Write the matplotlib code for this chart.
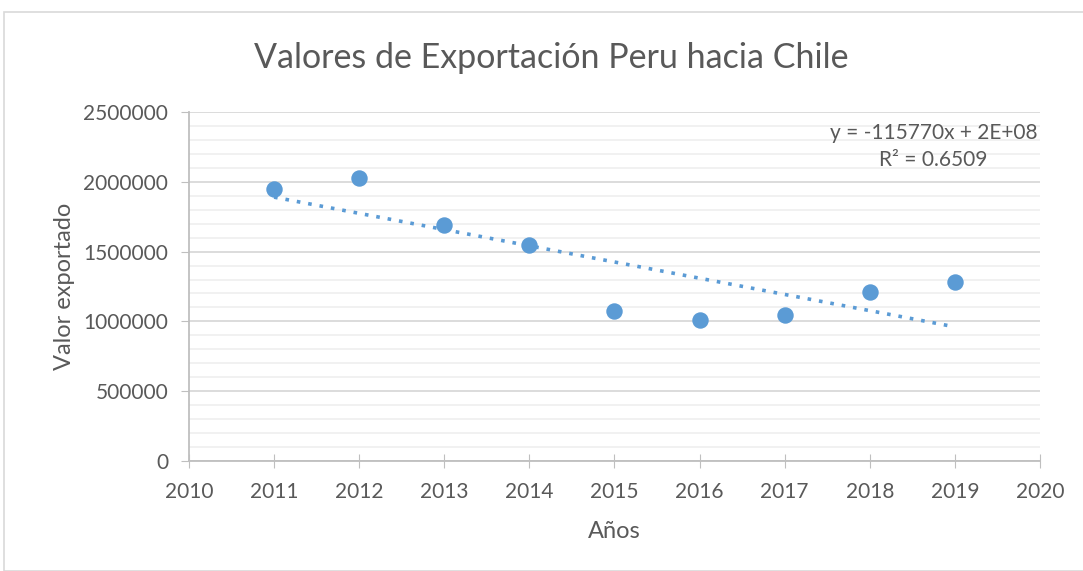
import matplotlib.pyplot as plt
import numpy as np
from matplotlib.patches import Rectangle
from matplotlib.ticker import MultipleLocator

# Data
years = [2011, 2012, 2013, 2014, 2015, 2016, 2017, 2018, 2019]
valores = [1950000, 2030000, 1690000, 1545000, 1072000, 1008000, 1044000, 1210000, 1280000]

blue = "#5B9BD5"
gray_txt = "#595959"

plt.rcParams["font.family"] = ["Lato", "DejaVu Sans"]

fig = plt.figure(figsize=(10.83, 5.71), dpi=100)
ax = fig.add_axes([0.1745, 0.1926, 0.9603 - 0.1745, 0.8039 - 0.1926])

# outer chart border
fig.patches.append(Rectangle((4 / 1083, 0), 1.2, 1 - 12 / 571, transform=fig.transFigure,
                             fill=False, edgecolor="#d9d9d9", linewidth=1.2))

ax.scatter(years, valores, s=140, color=blue, zorder=3, linewidths=0)

# linear trend line
coef = np.polyfit(years, valores, 1)
xs = np.array([years[0], years[-1]])
ax.plot(xs, np.polyval(coef, xs), linestyle=(0, (1, 2.2)), color=blue, linewidth=2.6, zorder=2)

ax.set_xlim(2010, 2020)
ax.set_ylim(0, 2500000)
ax.xaxis.set_major_locator(MultipleLocator(1))
ax.yaxis.set_major_locator(MultipleLocator(500000))
ax.yaxis.set_minor_locator(MultipleLocator(100000))
ax.yaxis.set_major_formatter(lambda v, p: f"{int(round(v))}")
ax.grid(which="major", axis="y", color="#d9d9d9", linewidth=1.3)
ax.grid(which="minor", axis="y", color="#f0f0f0", linewidth=1.3)
ax.set_axisbelow(True)

for s in ["top", "right"]:
    ax.spines[s].set_visible(False)
for s in ["left", "bottom"]:
    ax.spines[s].set_color("#bfbfbf")
    ax.spines[s].set_linewidth(1.3)

ax.tick_params(axis="x", which="major", direction="inout", length=10, color="#bfbfbf",
               labelsize=15, labelcolor=gray_txt, pad=10)
ax.tick_params(axis="y", which="major", direction="out", length=6, color="#bfbfbf",
               labelsize=15, labelcolor=gray_txt, pad=9)
ax.tick_params(axis="y", which="minor", length=0)

ax.set_xlabel("Años", fontsize=17, color=gray_txt, labelpad=14)
ax.set_ylabel("Valor exportado", fontsize=17, color=gray_txt, labelpad=6)

fig.text(0.509, 0.898, "Valores de Exportación Peru hacia Chile", fontsize=24.5,
         color=gray_txt, ha="center", va="center")

ax.text(0.875, 0.901, "y = -115770x + 2E+08\nR² = 0.6509", transform=ax.transAxes,
        fontsize=15, color=gray_txt, ha="center", va="center", linespacing=1.45)

fig.savefig("out.png", dpi=100)
